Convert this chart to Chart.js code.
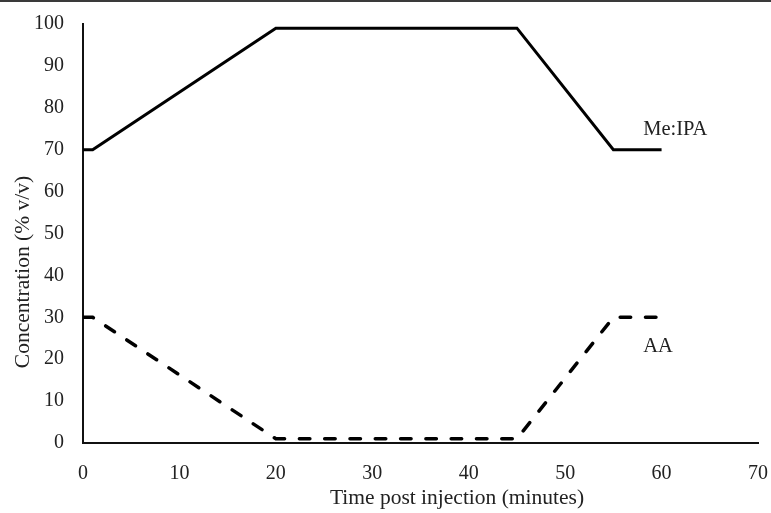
<!DOCTYPE html>
<html>
<head>
<meta charset="utf-8">
<script src="https://cdn.jsdelivr.net/npm/chart.js@4/dist/chart.umd.min.js"></script>
<style>
  html, body { margin: 0; padding: 0; background: #fff; }
  #wrap { width: 771px; height: 513px; position: relative; }
</style>
</head>
<body>
<div id="wrap"><canvas id="c" width="771" height="513"></canvas></div>
<script>
const times = [0, 1, 20, 45, 55, 60];
const meIPA = [70, 70, 99, 99, 70, 70];
const aa = [30, 30, 1, 1, 30, 30];
const seriesNames = ['Me:IPA', 'AA'];
const xTicks = [0, 10, 20, 30, 40, 50, 60, 70];
const yTicks = [0, 10, 20, 30, 40, 50, 60, 70, 80, 90, 100];
const xTitle = 'Time post injection (minutes)';
const yTitle = 'Concentration (% v/v)';

const labelSpots = [
  { text: seriesNames[0], x: 58.1, y: 74.7 },
  { text: seriesNames[1], x: 58.1, y: 22.9 }
];

const serif = '"Liberation Serif", "Times New Roman", serif';

const topRule = {
  id: 'topRule',
  afterDraw(chart) {
    const ctx = chart.ctx;
    ctx.save();
    ctx.fillStyle = '#3a3a3a';
    ctx.fillRect(0, 0, chart.width, 2);
    ctx.restore();
  }
};

const textLayer = {
  id: 'textLayer',
  afterDatasetsDraw(chart) {
    const ctx = chart.ctx;
    const xs = chart.scales.x, ys = chart.scales.y;
    ctx.save();
    ctx.fillStyle = '#222';
    ctx.font = '20.5px ' + serif;
    ctx.textBaseline = 'middle';
    ctx.textAlign = 'left';
    labelSpots.forEach(l => {
      ctx.fillText(l.text, xs.getPixelForValue(l.x), ys.getPixelForValue(l.y));
    });
    ctx.font = '21.5px ' + serif;
    ctx.textAlign = 'center';
    ctx.fillText(xTitle, 457, 498);
    ctx.translate(23, 272);
    ctx.rotate(-Math.PI / 2);
    ctx.fillText(yTitle, 0, 0);
    ctx.restore();
  }
};

new Chart(document.getElementById('c'), {
  type: 'line',
  data: {
    datasets: [
      {
        label: seriesNames[0],
        data: times.map((t, i) => ({ x: t, y: meIPA[i] })),
        borderColor: '#000',
        borderWidth: 3,
        pointRadius: 0,
        tension: 0,
        fill: false
      },
      {
        label: seriesNames[1],
        data: times.map((t, i) => ({ x: t, y: aa[i] })),
        borderColor: '#000',
        borderWidth: 3.5,
        borderDash: [10.5, 14.8],
        borderCapStyle: 'round',
        pointRadius: 0,
        tension: 0,
        fill: false
      }
    ]
  },
  options: {
    responsive: false,
    animation: false,
    layout: { padding: { top: 24, right: 13, left: 0, bottom: 0 } },
    plugins: {
      legend: { display: false },
      tooltip: { enabled: false }
    },
    scales: {
      x: {
        type: 'linear',
        min: 0, max: 70,
        afterBuildTicks(scale) { scale.ticks = xTicks.map(v => ({ value: v })); },
        afterFit(scale) { scale.height = 70; scale.paddingLeft = 0; scale.paddingRight = 0; },
        grid: { display: false, drawTicks: false },
        border: { display: true, color: '#111', width: 2 },
        ticks: { color: '#222', font: { family: serif, size: 20 }, padding: 19, maxRotation: 0 }
      },
      y: {
        type: 'linear',
        min: 0, max: 100,
        afterBuildTicks(scale) { scale.ticks = yTicks.map(v => ({ value: v })); },
        afterFit(scale) { scale.width = 83; scale.paddingTop = 0; scale.paddingBottom = 0; },
        grid: { display: false, drawTicks: false },
        border: { display: true, color: '#111', width: 2 },
        ticks: { color: '#222', font: { family: serif, size: 20 }, padding: 19 }
      }
    }
  },
  plugins: [topRule, textLayer]
});
</script>
</body>
</html>
